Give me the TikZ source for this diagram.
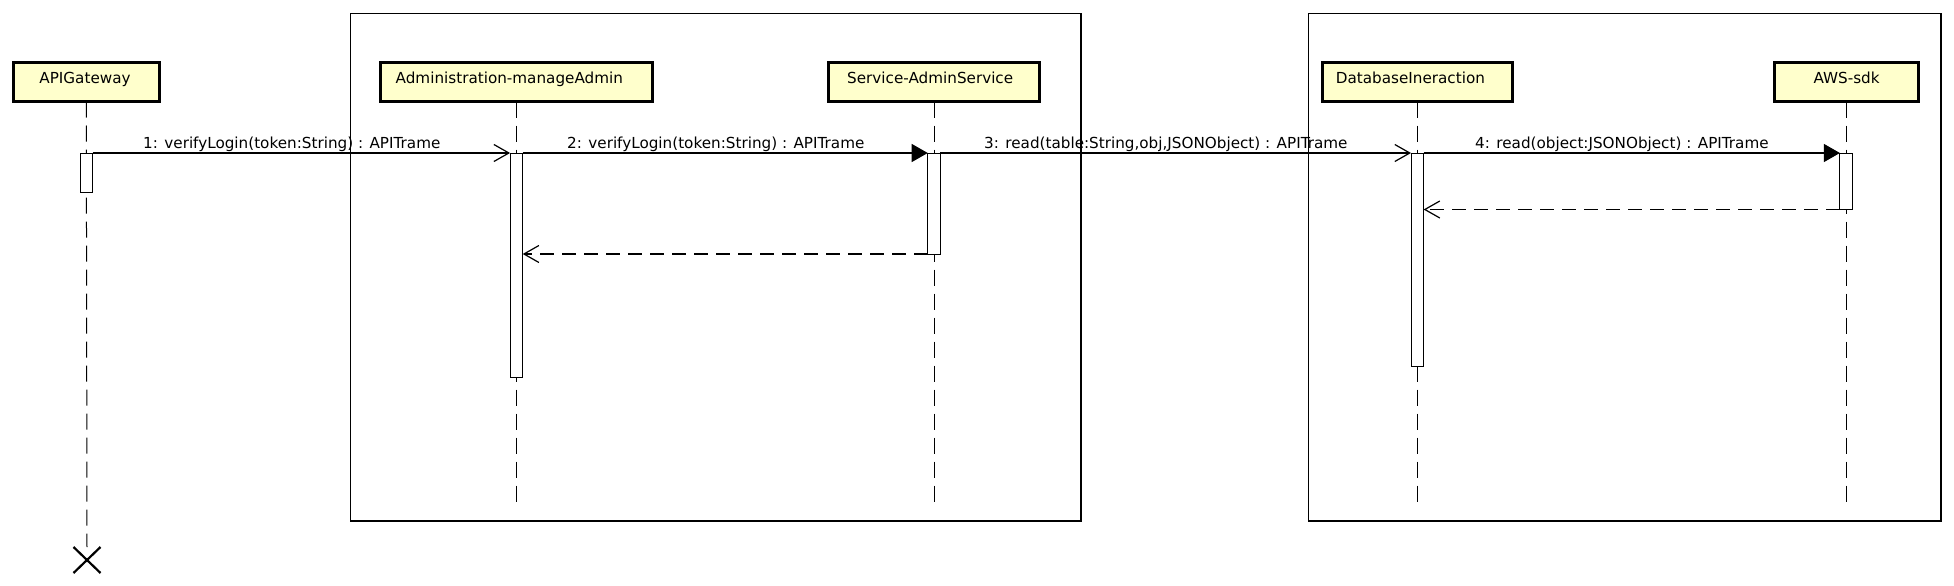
\documentclass[tikz,border=0pt]{standalone}
\usepackage{fontspec}
\setmainfont{DejaVu Sans}
\usetikzlibrary{arrows.meta,shapes.misc}
\definecolor{lifefill}{HTML}{FFFFCC}
\begin{document}
\begin{tikzpicture}[x=1pt,y=-1pt,
  every node/.style={font=\fontsize{15.2}{18}\selectfont},
  lifebox/.style={draw, line width=3pt, fill=lifefill, inner sep=0pt, outer sep=0pt, minimum height=38.5pt},
  actbox/.style={draw, line width=1pt, fill=white, inner sep=0pt, outer sep=0pt, minimum width=12.6pt, anchor=north},
  lifeline/.style={line width=1pt, dash pattern=on 16pt off 8pt},
  frame/.style={draw, line width=1.2pt},
  msg/.style={line width=1.2pt},
  openhead/.style={-{Straight Barb[length=15pt,width=17pt]}},
  fullhead/.style={-{Triangle[length=16pt,width=18pt]}},
  retmsg/.style={line width=1.2pt, dash pattern=on 14pt off 8pt, -{Straight Barb[length=15pt,width=17pt]}},
  lbl/.style={anchor=base, inner sep=0pt},
  mlbl/.style={anchor=base west, inner sep=0pt}
]
\useasboundingbox (0,0) rectangle (1954,586);
\fill[white] (0,0) rectangle (1954,586);

% frames
\node[frame, inner sep=0pt, outer sep=0pt, minimum width=730.4pt, minimum height=507.7pt] (g1) at (715.8,267.15) {};
\node[frame, inner sep=0pt, outer sep=0pt, minimum width=632.3pt, minimum height=507.7pt] (g2) at (1624.85,267.15) {};

% lifeline heads
\node[lifebox, minimum width=145.5pt] (api) at (86.3,82.25) {};
\node[lifebox, minimum width=272.5pt] (adm) at (516.4,82.25) {};
\node[lifebox, minimum width=211.7pt] (srv) at (934,82.25) {};
\node[lifebox, minimum width=190.2pt] (db) at (1417.3,82.25) {};
\node[lifebox, minimum width=144.3pt] (aws) at (1846.2,82.25) {};

\node[lbl] (apiL) at (85,84) {APIGateway};
\node[lbl] (admL) at (509.3,84) {Administration-manageAdmin};
\node[lbl] (srvL) at (930.2,84) {Service-AdminService};
\node[lbl] (dbL) at (1410.4,84) {DatabaseIneraction};
\node[lbl] (awsL) at (1846.6,84) {AWS-sdk};

% destroy mark
\node[draw, cross out, line width=2.2pt, inner sep=0pt, outer sep=0pt, minimum width=27pt, minimum height=26pt] (xx) at (87,560) {};

% lifeline ends
\coordinate (admE) at (516.4,503);
\coordinate (srvE) at (934,503);
\coordinate (dbE) at (1417.3,503);
\coordinate (awsE) at (1846.2,503);

\draw[lifeline] (api.south) -- (xx.north);
\draw[lifeline] (adm.south) -- (admE);
\draw[lifeline] (srv.south) -- (srvE);
\draw[lifeline] (db.south) -- (dbE);
\draw[lifeline] (aws.south) -- (awsE);

% activations
\node[actbox, minimum height=39pt] (a1) at (86.3,153) {};
\node[actbox, minimum height=224pt] (a2) at (516.4,153) {};
\node[actbox, minimum height=101pt] (a3) at (934,153) {};
\node[actbox, minimum height=213pt] (a4) at (1417.3,153) {};
\node[actbox, minimum height=56.5pt] (a5) at (1846.2,153) {};

% messages
\draw[msg, openhead] (a1.north east) -- (a2.north west);
\draw[msg, fullhead] (a2.north east) -- (a3.north west);
\draw[msg, openhead] (a3.north east) -- (a4.north west);
\draw[msg, fullhead] (a4.north east) -- (a5.north west);

\node[mlbl] (m1) at (143,148) {1: verifyLogin(token:String) : APITrame};
\node[mlbl] (m2) at (567,148) {2: verifyLogin(token:String) : APITrame};
\node[mlbl] (m3) at (984,148) {3: read(table:String,obj,JSONObject) : APITrame};
\node[mlbl] (m4) at (1475,148) {4: read(object:JSONObject) : APITrame};

% returns
\draw[retmsg] (a3.south west) -- (a2.east |- a3.south);
\draw[retmsg] (a5.south west) -- (a4.east |- a5.south);
\end{tikzpicture}
\end{document}
